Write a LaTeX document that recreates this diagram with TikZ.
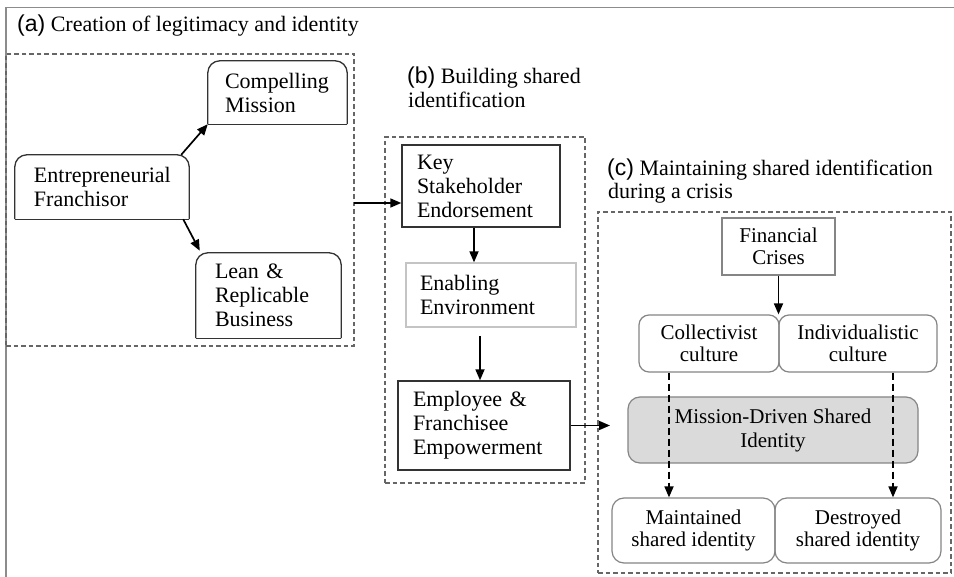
\documentclass[tikz,border=0pt]{standalone}
\usepackage{fontspec}
\setmainfont{Liberation Serif}
\newfontfamily\labfont{Liberation Sans}
\usetikzlibrary{arrows.meta}
\definecolor{boxdark}{HTML}{333333}
\definecolor{boxmid}{HTML}{858585}
\definecolor{boxlight}{HTML}{C4C4C4}
\definecolor{dashgray}{HTML}{666666}
\definecolor{framegray}{HTML}{8C8C8C}
\definecolor{mdfill}{HTML}{DADADA}
\newcommand\toprnd[1]{%
  \draw[boxdark,line width=1.3pt,rounded corners=12pt] (#1.south west) -- (#1.north west) -- (#1.north east) -- (#1.south east);
  \draw[boxdark,line width=1.3pt] (#1.south west) -- (#1.south east);}
\begin{document}
\begin{tikzpicture}[x=1pt,y=-1pt,
  txt/.style={font=\fontsize{22}{24}\selectfont},
  ctxt/.style={font=\fontsize{21}{22.5}\selectfont},
  lbox/.style={txt,align=left,inner ysep=0pt},
  cbox/.style={ctxt,align=center,inner sep=0pt,draw=boxmid,line width=1.2pt},
  grp/.style={draw=dashgray,line width=1.2pt,dash pattern=on 4.5pt off 3pt,inner sep=0pt},
  arr/.style={-{Triangle[length=11pt,width=9pt]},line width=1.7pt,black},
  darr/.style={arr,dash pattern=on 7pt off 4pt},
  ttl/.style={txt,anchor=base west,inner sep=0pt}
]
\useasboundingbox (0,0) rectangle (954,577);
\fill[white] (0,0) rectangle (954,577);
\draw[framegray,line width=1.6pt] (6,577) -- (6,7.5) -- (954,7.5);

% titles
\node[ttl] (ta) at (17,32) {{\labfont\fontsize{23}{24}\selectfont (a)} Creation of legitimacy and identity};
\node[ttl] (tb1) at (407,84) {{\labfont\fontsize{23}{24}\selectfont (b)} Building shared};
\node[ttl] (tb2) at (408,108) {identification};
\node[ttl] (tc1) at (607,176) {{\labfont\fontsize{23}{24}\selectfont (c)} Maintaining shared identification};
\node[ttl] (tc2) at (608,199) {during a crisis};

% group boxes
\node[grp,minimum width=348pt,minimum height=292pt] (ga) at (180,200) {};
\node[grp,minimum width=200pt,minimum height=346pt] (gb) at (485,310) {};
\node[grp,minimum width=353pt,minimum height=361pt] (gc) at (774.5,392.5) {};

% (a)
\node[lbox,minimum height=63pt,text width=105pt,inner xsep=17pt] (cm) at (277.5,92.5) {Compelling\\Mission};
\node[lbox,minimum height=64pt,text width=136pt,inner xsep=19pt] (ef) at (102,187) {Entrepreneurial\\Franchisor};
\node[lbox,minimum height=85pt,text width=107pt,inner xsep=19pt] (lrb) at (268.5,295.5) {Lean \&\\Replicable\\Business};
\toprnd{cm}
\toprnd{ef}
\toprnd{lrb}
\draw[arr] ([xshift=-8pt]ef.north east) -- (cm.south west);
\draw[arr] ([xshift=-6pt]ef.south east) -- ([xshift=4pt,yshift=2pt]lrb.north west);

% (b)
\node[lbox,draw=boxdark,line width=1.4pt,minimum height=82pt,text width=128pt,inner xsep=15pt] (kse) at (481,186) {Key\\Stakeholder\\Endorsement};
\node[lbox,draw=boxlight,line width=1.3pt,minimum height=64pt,text width=142pt,inner xsep=14pt] (ee) at (491,295) {Enabling\\Environment};
\node[lbox,draw=boxdark,line width=1.4pt,minimum height=89pt,text width=142pt,inner xsep=15pt] (eee) at (484,425.5) {Employee \&\\Franchisee\\Empowerment};
\coordinate (a1) at (354,203);
\draw[arr] (a1) -- (a1 -| kse.west);
\coordinate (k1) at (474,0);
\draw[arr] (k1 |- kse.south) -- (k1 |- ee.north);
\coordinate (e1) at (480,336);
\draw[arr] (e1) -- (e1 |- eee.north);
\coordinate (cin) at (610,425.5);
\draw[arr] (eee.east) -- (cin);

% (c)
\node[cbox,minimum width=113pt,minimum height=57pt] (fc) at (778.5,246.5) {Financial\\Crises};
\node[cbox,rounded corners=10pt,minimum width=140pt,minimum height=57pt] (cc) at (709,343.5) {Collectivist\\culture};
\node[cbox,rounded corners=10pt,minimum width=158pt,minimum height=57pt] (ic) at (858,343.5) {Individualistic\\culture};
\node[cbox,rounded corners=12pt,fill=mdfill,draw=boxmid,minimum width=290pt,minimum height=66pt,font=\fontsize{21}{24}\selectfont] (md) at (773,430) {Mission-Driven Shared\\Identity};
\node[cbox,rounded corners=12pt,minimum width=163pt,minimum height=65pt] (msi) at (693.5,530.5) {Maintained\\shared identity};
\node[cbox,rounded corners=12pt,minimum width=166pt,minimum height=65pt] (dsi) at (858,530.5) {Destroyed\\shared identity};
\draw[arr] (fc.south) -- (fc.south |- cc.north);
\coordinate (d1) at (669,0);
\coordinate (d2) at (893,0);
\draw[darr] (d1 |- cc.south) -- (d1 |- msi.north);
\draw[darr] (d2 |- ic.south) -- (d2 |- dsi.north);
\end{tikzpicture}
\end{document}
